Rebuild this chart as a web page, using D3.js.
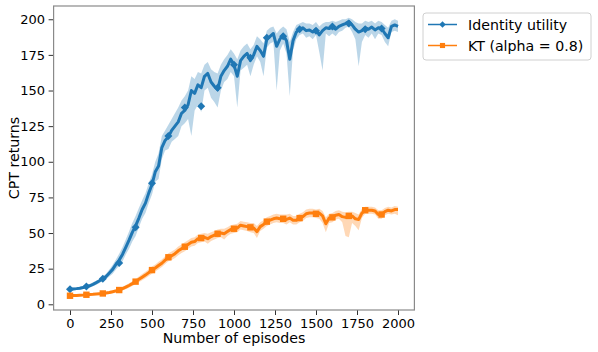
<!DOCTYPE html>
<html>
<head>
<meta charset="utf-8">
<script src="https://cdn.jsdelivr.net/npm/d3@7"></script>
<style>
  body { margin: 0; background: #fff; }
  text { font-family: "DejaVu Sans", sans-serif; fill: #000; }
</style>
</head>
<body>
<div id="chart"></div>
<script>
// episode grid (every 20 episodes) and values
const episodes = d3.range(0, 2001, 20);

const blueMean = [
  10.5, 10.8, 11.0, 11.3, 11.8, 12.5, 13.0, 14.0, 15.2, 16.5,
  18.0, 19.5, 22.0, 24.5, 28.0, 31.0, 35.0, 40.0, 45.0, 50.5,
  55.0, 60.5, 66.5, 71.0, 78.0, 84.0, 93.0, 97.0, 110.0, 115.0,
  117.5, 122.0, 125.0, 128.0, 134.0, 136.0, 140.0, 150.0, 148.0, 154.0,
  152.0, 160.0, 162.0, 156.0, 153.0, 150.5, 160.0, 164.0, 167.0, 172.0,
  168.0, 160.0, 171.0, 174.0, 176.0, 171.0, 175.0, 181.0, 178.0, 174.0,
  186.0, 188.0, 190.0, 181.0, 186.0, 189.0, 185.0, 172.0, 185.0, 191.0,
  193.0, 194.0, 192.0, 192.5, 191.0, 193.0, 189.0, 192.0, 194.0, 193.5,
  194.5, 193.0, 195.0, 196.0, 197.0, 198.5, 196.0, 193.0, 191.0, 192.0,
  194.0, 193.0, 194.5, 192.5, 194.0, 193.5, 190.0, 187.0, 195.0, 196.0,
  195.0
];
const blueHi = [
  11.5, 11.8, 12.0, 12.4, 12.9, 13.6, 14.2, 15.3, 16.6, 18.0,
  19.6, 21.5, 24.5, 27.5, 31.5, 35.5, 40.0, 45.5, 51.0, 57.0,
  62.0, 67.5, 73.0, 78.0, 85.0, 91.0, 100.0, 106.0, 118.0, 122.0,
  126.0, 130.0, 134.0, 138.0, 143.0, 146.0, 150.0, 160.0, 158.0, 163.0,
  162.0, 168.0, 170.0, 165.0, 163.0, 162.0, 168.0, 172.0, 175.0, 179.0,
  176.0, 172.0, 178.0, 181.0, 183.0, 179.0, 182.0, 188.0, 186.0, 183.0,
  192.0, 194.0, 195.0, 190.0, 193.0, 195.0, 193.0, 184.0, 191.0, 196.0,
  197.0, 198.0, 197.0, 197.0, 196.0, 198.0, 195.0, 197.0, 198.0, 198.0,
  199.0, 198.0, 199.0, 200.0, 200.0, 201.0, 200.0, 198.0, 197.0, 197.0,
  199.0, 198.0, 199.0, 197.0, 199.0, 198.0, 196.0, 194.0, 199.0, 200.0,
  199.0
];
const blueLo = [
  9.5, 9.8, 10.0, 10.2, 10.7, 11.4, 11.8, 12.7, 13.8, 15.0,
  16.4, 17.5, 19.5, 21.5, 24.5, 27.0, 30.0, 35.0, 39.0, 44.0,
  48.0, 54.0, 60.0, 64.0, 71.0, 77.0, 86.0, 88.0, 102.0, 108.0,
  109.0, 114.0, 116.0, 118.0, 125.0, 127.0, 130.0, 118.0, 136.0, 140.0,
  135.0, 150.0, 152.0, 145.0, 142.0, 138.0, 150.0, 156.0, 158.0, 163.0,
  160.0, 138.0, 164.0, 166.0, 168.0, 160.0, 168.0, 174.0, 170.0, 160.0,
  180.0, 183.0, 184.0, 150.0, 178.0, 183.0, 176.0, 146.0, 178.0, 186.0,
  189.0, 190.0, 187.0, 188.0, 186.0, 189.0, 177.0, 164.0, 190.0, 188.0,
  190.0, 188.0, 191.0, 192.0, 194.0, 195.0, 191.0, 186.0, 167.0, 184.0,
  189.0, 187.0, 190.0, 186.0, 190.0, 189.0, 184.0, 181.0, 191.0, 192.0,
  191.0
];

const orangeMean = [
  6.0, 6.1, 6.2, 6.4, 6.5, 6.7, 6.9, 7.0, 7.2, 7.4,
  7.6, 7.9, 8.3, 8.8, 9.4, 10.0, 11.0, 12.0, 13.2, 14.5,
  15.9, 17.5, 19.0, 20.5, 22.2, 24.0, 25.5, 27.2, 28.8, 31.0,
  33.0, 34.0, 35.5, 37.5, 39.0, 40.4, 42.0, 43.5, 44.0, 46.0,
  46.5, 47.0, 46.0, 47.5, 48.5, 49.5, 50.0, 49.5, 51.0, 52.5,
  53.0, 53.5, 55.5, 55.0, 54.5, 54.0, 53.5, 51.0, 54.5, 56.0,
  58.0, 59.0, 60.0, 60.5, 60.0, 60.0, 59.5, 60.5, 59.0, 59.0,
  60.5, 61.5, 63.5, 64.0, 64.0, 63.5, 64.0, 62.0, 56.5, 60.5,
  61.0, 62.5, 63.0, 61.5, 61.0, 62.0, 62.0, 60.0, 59.5, 64.0,
  66.0, 66.0, 66.0, 65.5, 63.0, 63.0, 65.0, 66.0, 65.5, 66.5,
  66.5
];
const orangeHi = [
  6.6, 6.7, 6.8, 7.0, 7.1, 7.3, 7.5, 7.7, 7.9, 8.1,
  8.4, 8.8, 9.3, 9.9, 10.6, 11.3, 12.4, 13.5, 14.8, 16.2,
  17.8, 19.5, 21.2, 22.8, 24.5, 26.5, 28.0, 29.8, 31.5, 33.8,
  35.8, 37.0, 38.5, 40.5, 42.0, 43.5, 45.0, 46.5, 47.0, 49.0,
  49.5, 50.0, 49.5, 50.5, 51.5, 52.5, 53.0, 53.0, 54.0, 55.5,
  56.0, 56.5, 58.5, 58.0, 57.5, 57.0, 57.0, 55.0, 57.5, 59.0,
  61.0, 62.0, 63.0, 63.5, 63.0, 63.0, 63.0, 63.5, 62.0, 62.0,
  63.5, 64.5, 66.5, 67.0, 67.0, 66.5, 67.0, 65.5, 61.0, 63.5,
  64.0, 65.5, 66.0, 65.0, 64.5, 65.0, 65.0, 64.0, 63.0, 67.0,
  68.5, 68.5, 68.5, 68.0, 66.0, 66.0, 67.5, 68.5, 68.0, 69.0,
  68.5
];
const orangeLo = [
  5.4, 5.5, 5.6, 5.8, 5.9, 6.1, 6.3, 6.3, 6.5, 6.7,
  6.8, 7.0, 7.3, 7.7, 8.2, 8.7, 9.6, 10.5, 11.6, 12.8,
  14.0, 15.5, 16.8, 18.2, 19.9, 21.5, 23.0, 24.6, 26.1, 28.2,
  30.2, 31.0, 32.5, 34.5, 36.0, 37.3, 39.0, 40.5, 41.0, 43.0,
  43.5, 44.0, 42.5, 44.5, 45.5, 46.5, 47.0, 45.5, 48.0, 49.5,
  50.0, 50.5, 52.5, 52.0, 51.5, 50.5, 50.0, 46.5, 51.5, 53.0,
  55.0, 56.0, 57.0, 57.5, 57.0, 57.0, 56.0, 57.5, 56.0, 56.0,
  57.5, 58.5, 60.5, 61.0, 61.0, 60.5, 60.0, 57.0, 50.5, 57.0,
  57.5, 59.5, 60.0, 57.5, 48.0, 47.0, 57.0, 55.0, 52.0, 60.5,
  63.5, 63.5, 63.5, 63.0, 60.0, 60.0, 62.5, 63.5, 63.0, 63.5,
  62.5
];

// markers every 100 episodes
const markerEpisodes = d3.range(0, 2000, 100);
const blueMarks = [10.5, 12.5, 18, 29, 54, 85, 118, 138, 139, 152, 168, 173, 187, 188, 193, 192, 195, 197, 193, 193.5];
const orangeMarks = [6, 6.7, 7.6, 10, 15.9, 24, 33, 40.4, 46.5, 49.5, 53, 54, 58, 60, 60.5, 63.5, 61, 62, 66, 63];

const xTicks = [0, 250, 500, 750, 1000, 1250, 1500, 1750, 2000];
const yTicks = [0, 25, 50, 75, 100, 125, 150, 175, 200];
const seriesNames = ["Identity utility", "KT (alpha = 0.8)"];

const W = 598, H = 352;
const plot = { left: 53.6, right: 414.4, top: 6, bottom: 310 };
const blue = "#1f77b4", orange = "#ff7f0e";

const svg = d3.select("#chart").append("svg")
    .attr("width", W)
    .attr("height", H);

const x = d3.scaleLinear().domain([-100, 2100]).range([plot.left, plot.right]);
const y = d3.scaleLinear().domain([-4.0, 209.3]).range([plot.bottom, plot.top]);

function drawSeries(mean, lo, hi, marks, color, shape) {
    const rows = episodes.map((e, i) => ({ e: e, m: mean[i], lo: lo[i], hi: hi[i] }));

    svg.append("path")
        .datum(rows)
        .attr("d", d3.area()
            .x(d => x(d.e))
            .y0(d => y(d.lo))
            .y1(d => y(d.hi)))
        .style("fill", color)
        .style("opacity", 0.3);

    svg.append("path")
        .datum(rows)
        .attr("d", d3.line()
            .x(d => x(d.e))
            .y(d => y(d.m)))
        .style("fill", "none")
        .style("stroke", color)
        .style("stroke-width", 3)
        .style("stroke-linejoin", "round");

    svg.selectAll(null)
        .data(markerEpisodes.map((e, i) => ({ e: e, v: marks[i] })))
        .enter().append("path")
        .attr("transform", d => "translate(" + x(d.e) + "," + y(d.v) + ")")
        .attr("d", shape)
        .style("fill", color);
}

const diamond = "M0,-4L4,0L0,4L-4,0Z";
const square = "M-3.2,-3.2H3.2V3.2H-3.2Z";

drawSeries(blueMean, blueLo, blueHi, blueMarks, blue, diamond);
drawSeries(orangeMean, orangeLo, orangeHi, orangeMarks, orange, square);

// axes
const xAxis = svg.append("g")
    .attr("transform", "translate(0," + plot.bottom + ")")
    .call(d3.axisBottom(x).tickValues(xTicks).tickFormat(d3.format("d")).tickSize(5).tickPadding(3.5));

const yAxis = svg.append("g")
    .attr("transform", "translate(" + plot.left + ",0)")
    .call(d3.axisLeft(y).tickValues(yTicks).tickFormat(d3.format("d")).tickSize(5).tickPadding(3.5));

[xAxis, yAxis].forEach(g => {
    g.attr("font-family", "DejaVu Sans").attr("font-size", 13);
    g.select(".domain").remove();
    g.selectAll(".tick line").attr("stroke", "#333").attr("stroke-width", 1);
    g.selectAll(".tick text")
        .attr("font-size", 13)
        .attr("fill", "#000");
});

svg.append("rect")
    .attr("x", plot.left)
    .attr("y", plot.top)
    .attr("width", plot.right - plot.left)
    .attr("height", plot.bottom - plot.top)
    .style("fill", "none")
    .style("stroke", "#8a8a8a")
    .style("stroke-width", 1.2);

svg.append("text")
    .attr("x", (plot.left + plot.right) / 2)
    .attr("y", 343)
    .attr("text-anchor", "middle")
    .style("font-size", "14.2px")
    .text("Number of episodes");

svg.append("text")
    .attr("transform", "translate(18.5," + (plot.top + plot.bottom) / 2 + ") rotate(-90)")
    .attr("text-anchor", "middle")
    .style("font-size", "14.2px")
    .text("CPT returns");

// legend
const legend = svg.append("g").attr("transform", "translate(423,13)");
legend.append("rect")
    .attr("width", 168)
    .attr("height", 47)
    .attr("rx", 3)
    .style("fill", "#fff")
    .style("fill-opacity", 0.8)
    .style("stroke", "#d0d0d0");

[[blue, diamond], [orange, square]].forEach((s, i) => {
    const row = legend.append("g").attr("transform", "translate(0," + (11.5 + i * 21) + ")");
    row.append("line")
        .attr("x1", 5).attr("x2", 34)
        .style("stroke", s[0])
        .style("stroke-width", 1.5);
    row.append("path")
        .attr("transform", "translate(19.5,0) scale(0.8)")
        .attr("d", s[1])
        .style("fill", s[0]);
    row.append("text")
        .attr("x", 45)
        .attr("y", 5)
        .style("font-size", "14.2px")
        .text(seriesNames[i]);
});
</script>
</body>
</html>
